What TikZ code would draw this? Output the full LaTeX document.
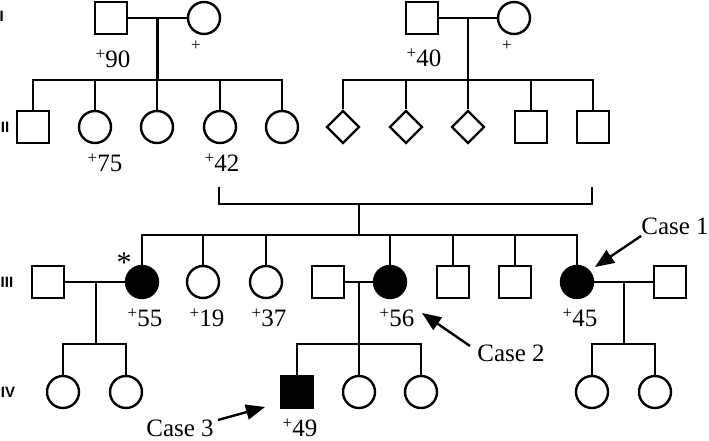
\documentclass[tikz,border=0pt]{standalone}
\usepackage{fontspec}
\setmainfont{Liberation Serif}
\newfontfamily\gensf{Liberation Sans}
\usetikzlibrary{shapes.geometric,arrows.meta,calc}
\newcommand\pl{\raisebox{0.33em}{\fontsize{17}{17}\selectfont +}}
\begin{document}
\begin{tikzpicture}[x=1pt,y=-1pt,
  line width=2.4pt,
  ind/.style={draw, line width=2.4pt, inner sep=0pt, minimum size=32pt},
  male/.style={ind, rectangle},
  female/.style={ind, circle},
  unk/.style={ind, diamond, minimum size=33pt},
  aff/.style={fill=black},
  lab/.style={font=\fontsize{25}{27}\selectfont, inner sep=0pt},
  plus/.style={font=\fontsize{17}{17}\selectfont, inner sep=0pt},
  gen/.style={font=\gensf\bfseries\fontsize{15}{15}\selectfont, inner sep=0pt},
  pointer/.style={-{Triangle[length=19pt,width=15pt]}, line width=2.4pt}]
\useasboundingbox (0,0) rectangle (709,441);

% Generation labels
\node[gen] (gI) at (1.8,16) {I};
\node[gen] (gII) at (5,127) {II};
\node[gen] (gIII) at (7,282) {III};
\node[gen] (gIV) at (8,392) {IV};

% Generation I
\node[male] (i1) at (111,18) {};
\node[female] (i2) at (204,18) {};
\node[male] (i3) at (422,18) {};
\node[female] (i4) at (514,18) {};

% Generation II
\node[male] (ii1) at (33,127) {};
\node[female] (ii2) at (95,127) {};
\node[female] (ii3) at (157,127) {};
\node[female] (ii4) at (220,127) {};
\node[female] (ii5) at (282,127) {};
\node[unk] (ii6) at (343,127) {};
\node[unk] (ii7) at (406,127) {};
\node[unk] (ii8) at (468,127) {};
\node[male] (ii9) at (531,127) {};
\node[male] (ii10) at (593,127) {};

% Generation III
\node[male] (iii1) at (48,282) {};
\node[female,aff] (iii2) at (142,282) {};
\node[female] (iii3) at (203,282) {};
\node[female] (iii4) at (266,282) {};
\node[male] (iii5) at (328,282) {};
\node[female,aff] (iii6) at (390,282) {};
\node[male] (iii7) at (453,282) {};
\node[male] (iii8) at (515,282) {};
\node[female,aff] (iii9) at (577,282) {};
\node[male] (iii10) at (670,282) {};

% Generation IV
\node[female] (iv1) at (63,392) {};
\node[female] (iv2) at (126,392) {};
\node[male,aff] (iv3) at (297,392) {};
\node[female] (iv4) at (359,392) {};
\node[female] (iv5) at (421,392) {};
\node[female] (iv6) at (592,392) {};
\node[female] (iv7) at (655,392) {};

% Family 1 (gen I left)
\coordinate (m1) at ($(i1.east)!0.5!(i2.west)$);
\coordinate (s1) at (157,80);
\draw (i1) -- (i2);
\draw (m1) -- (m1 |- s1);
\draw (ii1.north) -- (ii1 |- s1) -- (ii5 |- s1) -- (ii5.north);
\foreach \n in {ii2,ii3,ii4} \draw (\n |- s1) -- (\n.north);

% Family 2 (gen I right)
\coordinate (m2) at ($(i3.east)!0.5!(i4.west)$);
\coordinate (s2) at (468,80);
\draw (i3) -- (i4);
\draw (m2) -- (m2 |- s2);
\draw (ii6.north) -- (ii6 |- s2) -- (ii10 |- s2) -- (ii10.north);
\foreach \n in {ii7,ii8,ii9} \draw (\n |- s2) -- (\n.north);

% Couple II-4 x II-10 bracket
\coordinate (b1) at (219,187);
\coordinate (b2) at (592,187);
\coordinate (bl) at (359,204);
\coordinate (s3) at (359,235);
\draw (b1) -- (b1 |- bl) -- (b2 |- bl) -- (b2);
\draw (bl) -- (s3);
\draw (iii2.north) -- (iii2 |- s3) -- (iii9 |- s3) -- (iii9.north);
\foreach \n in {iii3,iii4,iii6,iii7,iii8} \draw (\n |- s3) -- (\n.north);

% Gen III couples
\coordinate (m3) at (96,282);
\coordinate (s4) at (96,344);
\draw (iii1) -- (iii2);
\draw (m3) -- (s4);
\draw (iv1.north) -- (iv1 |- s4) -- (iv2 |- s4) -- (iv2.north);

\coordinate (m4) at (359,282);
\coordinate (s5) at (359,344);
\draw (iii5) -- (iii6);
\draw (m4) -- (s5);
\draw (iv3.north) -- (iv3 |- s5) -- (iv5 |- s5) -- (iv5.north);
\draw (s5) -- (iv4.north);

\coordinate (m5) at (624,282);
\coordinate (s6) at (624,344);
\draw (iii9) -- (iii10);
\draw (m5) -- (s6);
\draw (iv6.north) -- (iv6 |- s6) -- (iv7 |- s6) -- (iv7.north);

% Age labels
\node[lab] (l90) at (113,59) {\pl90};
\node[plus] (lp1) at (196,46) {+};
\node[lab] (l40) at (424,58) {\pl40};
\node[plus] (lp2) at (507,46) {+};
\node[lab] (l75) at (105,163) {\pl75};
\node[lab] (l42) at (222,163) {\pl42};
\node[lab] (l55) at (145,318) {\pl55};
\node[lab] (l19) at (207,318) {\pl19};
\node[lab] (l37) at (269,318) {\pl37};
\node[lab] (l56) at (397,318) {\pl56};
\node[lab] (l45) at (580,318) {\pl45};
\node[lab] (l49) at (300,428) {\pl49};
\node[font=\fontsize{30}{30}\selectfont, inner sep=0pt] (ast) at (124,263) {*};

% Cases
\node[lab] (c1) at (675,226) {Case 1};
\node[lab] (c2) at (511,353) {Case 2};
\node[lab] (c3) at (180,428) {Case 3};
\coordinate (t1) at (641,236);
\coordinate (h1) at (595,267);
\coordinate (t2) at (470,346);
\coordinate (h2) at (422,313);
\coordinate (t3) at (218,420);
\coordinate (h3) at (265,407);
\draw[pointer] (t1) -- (h1);
\draw[pointer] (t2) -- (h2);
\draw[pointer] (t3) -- (h3);
\end{tikzpicture}
\end{document}
